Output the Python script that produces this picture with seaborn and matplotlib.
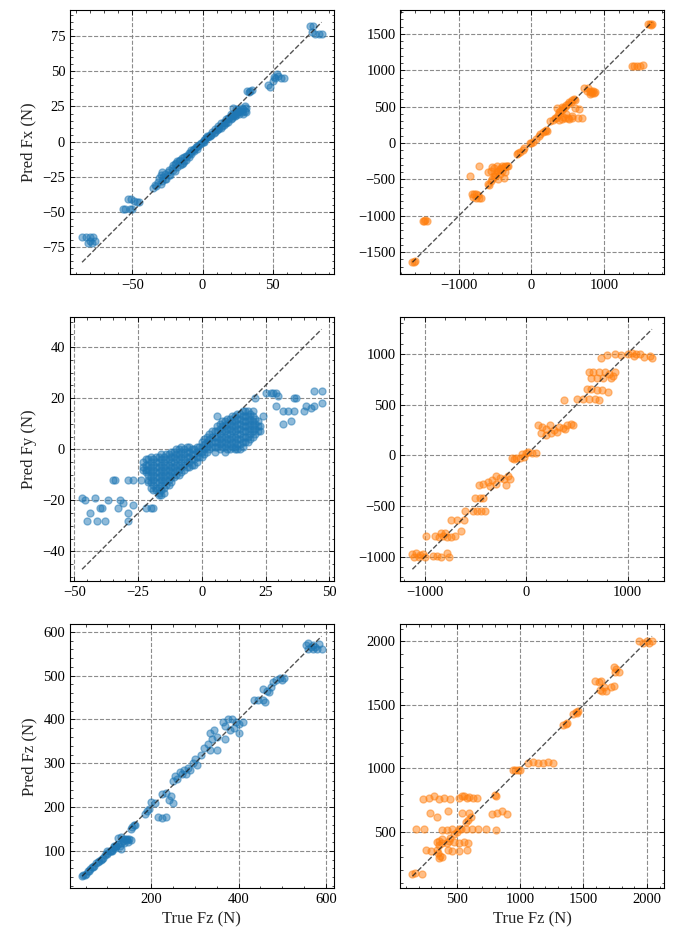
import pandas as pd
import matplotlib
matplotlib.use("Agg")
import matplotlib.pyplot as plt
from matplotlib.ticker import MultipleLocator
import seaborn as sns

# (true, pred) pairs, one cluster per line

# ---- left column: small forces ----
small_fx = [
    (-86, -68), (-83, -68), (-80, -68), (-78, -68), (-82, -72), (-79, -72), (-77, -71), (-80, -71),
    (-57, -48), (-55, -48), (-52, -48), (-50, -48), (-53, -41), (-51, -41), (-49, -42), (-47, -43), (-45, -43),
    (-35, -33), (-33, -32), (-32, -29), (-31, -26), (-30, -24), (-29, -28), (-28, -25), (-27, -23),
    (-26, -27), (-25, -22), (-24, -20), (-23, -24), (-22, -19), (-21, -17), (-20, -21), (-19, -15),
    (-18, -18), (-17, -14), (-16, -17), (-15, -12), (-14, -15), (-13, -11), (-12, -13), (-11, -10),
    (-10, -11), (-9, -8), (-8, -9), (-7, -6), (-6, -7), (-5, -4), (-4, -5), (-3, -3), (-2, -2),
    (-1, -1), (0, 0), (1, 1), (2, 2), (3, 3), (4, 3), (5, 5), (6, 5), (7, 7), (8, 6), (9, 9),
    (10, 8), (11, 11), (12, 10), (13, 13), (14, 11), (15, 14), (16, 13), (17, 16), (18, 14),
    (19, 17), (20, 16), (21, 19), (22, 18), (23, 20), (24, 19), (25, 21), (26, 20), (27, 22),
    (28, 21), (29, 23), (30, 22), (31, 24), (22, 24), (24, 23), (20, 20), (-18, -14), (-20, -16),
    (-15, -16), (-10, -8), (-30, -30), (-27, -27), (-24, -24), (-21, -20), (-12, -10), (-6, -5),
    (3, 4), (9, 7), (15, 12), (18, 17), (26, 22), (29, 20), (31, 21), (-34, -31), (-29, -22),
    (-16, -13), (-13, -14), (-8, -6), (-4, -3), (1, 0), (5, 4), (11, 9), (13, 10), (17, 13),
    (21, 17), (23, 18), (25, 23), (28, 24), (30, 25),
    (32, 36), (34, 36), (35, 37), (33, 35),
    (47, 40), (48, 39), (50, 43), (52, 45), (54, 47), (56, 45), (58, 45), (53, 48), (51, 46),
    (77, 82), (79, 82), (78, 78), (80, 77), (83, 77), (85, 77),
]

# dense Fy blob: true value -> predicted values in that column
small_fy_blob = [
    (-23, [-5, -7, -8]),
    (-22, [-4, -6, -8, -9]),
    (-21, [-4, -6, -8, -10, -12, -13]),
    (-20, [-3, -5, -7, -9, -11, -13, -15]),
    (-19, [-4, -6, -8, -10, -12, -14, -16]),
    (-18, [-3, -5, -7, -9, -11, -13, -15, -16]),
    (-17, [-3, -5, -7, -9, -11, -13, -15, -17, -18]),
    (-16, [-2, -4, -6, -8, -10, -12, -14, -16, -18]),
    (-15, [-3, -5, -7, -9, -11, -13, -15, -17]),
    (-14, [-2, -4, -6, -8, -10, -12, -14]),
    (-13, [-2, -4, -6, -8, -10, -12, -14]),
    (-12, [-1, -3, -5, -7, -9, -11, -13]),
    (-11, [-1, -3, -5, -7, -9, -11]),
    (-10, [0, -2, -4, -6, -8, -10]),
    (-9, [0, -2, -4, -6, -8, -10]),
    (-8, [1, -1, -3, -5, -7, -9]),
    (-7, [0, -2, -4, -6, -8]),
    (-6, [1, -1, -3, -5, -7]),
    (-5, [1, -1, -3, -5, -7]),
    (-4, [0, -2, -4, -6]),
    (-3, [0, -2, -4, -6]),
    (-2, [1, -1, -3, -5]),
    (-1, [1, -1, -3]),
    (0, [3, 1, -1, -3]),
    (1, [4, 2, 0, -2]),
    (2, [5, 3, 1, -1]),
    (3, [6, 4, 2, 0]),
    (4, [7, 5, 3, 1]),
    (5, [7, 5, 3, 1, -1]),
    (6, [9, 7, 5, 3, 1]),
    (7, [10, 8, 6, 4, 2, 0]),
    (8, [11, 9, 7, 5, 3, 1]),
    (9, [11, 9, 7, 5, 3, 1, -1]),
    (10, [12, 10, 8, 6, 4, 2, 0]),
    (11, [12, 10, 8, 6, 4, 2, 0]),
    (12, [13, 11, 9, 7, 5, 3, 1]),
    (13, [13, 11, 9, 7, 5, 3, 1, 0]),
    (14, [14, 12, 10, 8, 6, 4, 2, 0]),
    (15, [14, 12, 10, 8, 6, 4, 2, 0]),
    (16, [15, 13, 11, 9, 7, 5, 3, 1]),
    (17, [15, 13, 11, 9, 7, 5, 3]),
    (18, [15, 13, 11, 9, 7, 5, 3]),
    (19, [14, 12, 10, 8, 6, 4]),
    (20, [13, 11, 9, 7, 5]),
    (21, [12, 10, 8, 6]),
    (22, [11, 9, 7]),
    (23, [9, 7]),
]
small_fy_outliers = [
    (-46, -20), (-47, -19), (-44, -25), (-45, -28), (-41, -28), (-38, -28), (-39, -23), (-37, -20),
    (-42, -19), (-40, -23), (-34, -12), (-35, -12), (-33, -23), (-32, -20), (-29, -12), (-27, -12),
    (-24, -12), (-29, -25), (-29, -28), (-27, -22), (-22, -23), (-20, -23), (-19, -23), (-31, -21),
    (25, 22), (27, 22), (28, 22), (29, 22), (30, 21), (29, 17), (32, 15), (34, 15), (32, 10), (35, 11),
    (36, 20), (37, 20), (36, 15), (40, 15), (41, 17), (43, 16), (44, 17), (44, 23), (47, 23), (47, 18),
    (21, 20), (24, 13), (6, 13), (20, 15),
]

small_fz = [
    (42, 42), (45, 45), (50, 48), (55, 53), (60, 58), (65, 62), (70, 66), (75, 72), (80, 76),
    (85, 80), (90, 84), (95, 90), (100, 94), (105, 99), (110, 103), (115, 108), (120, 112),
    (125, 115), (130, 118), (135, 122), (140, 126), (145, 128), (150, 126), (155, 125),
    (120, 110), (130, 105), (110, 100), (100, 100), (125, 130), (130, 132),
    (48, 44), (58, 54), (68, 64), (78, 74), (88, 82), (98, 92), (108, 100), (118, 106),
    (128, 112), (138, 118), (148, 120), (115, 112), (135, 128), (145, 124),
    (155, 150), (160, 160), (157, 155), (162, 158),
    (185, 185), (190, 190), (195, 195), (200, 212), (210, 210), (215, 177), (225, 176), (235, 177),
    (225, 230), (235, 232), (245, 225), (240, 215), (250, 210),
    (250, 260), (260, 265), (270, 275), (280, 275), (255, 270), (265, 280),
    (285, 290), (295, 300), (300, 310), (305, 295), (290, 285), (275, 285),
    (320, 335), (330, 345), (340, 355), (315, 320), (335, 330), (350, 330),
    (335, 370), (345, 375), (350, 360),
    (365, 395), (375, 400), (385, 400), (395, 395), (400, 390), (370, 385), (380, 375),
    (390, 380), (410, 395), (400, 370), (370, 355),
    (435, 445), (445, 445), (455, 445), (460, 440),
    (455, 470), (465, 465), (475, 475), (480, 485), (470, 462),
    (485, 490), (495, 495), (500, 490), (505, 495),
    (555, 570), (560, 562), (565, 565), (570, 570), (575, 565), (580, 560), (585, 572),
    (590, 560), (560, 575), (570, 560),
]

# ---- right column: large forces ----
large_fx = [
    (-1640, -1630), (-1620, -1630), (-1600, -1620),
    (-1500, -1070), (-1480, -1070), (-1460, -1060), (-1440, -1070),
    (-820, -700), (-790, -700), (-760, -700), (-740, -710), (-720, -750), (-770, -760),
    (-800, -740), (-700, -760), (-840, -460), (-720, -320),
    (-600, -560), (-580, -580), (-560, -520), (-540, -500), (-520, -450), (-500, -420),
    (-480, -400), (-460, -380), (-440, -360), (-420, -340), (-400, -320), (-380, -330),
    (-360, -320), (-340, -310), (-320, -310), (-560, -380), (-540, -330), (-600, -400),
    (-520, -340), (-480, -320), (-500, -460), (-460, -500), (-440, -420), (-400, -380),
    (-380, -480), (-360, -400),
    (-200, -150), (-180, -140), (-160, -130), (-120, -100), (-100, -70),
    (-20, 0), (0, 0), (20, 10), (60, 60), (100, 100), (120, 120),
    (160, 150), (180, 170), (200, 180), (220, 170),
    (260, 300), (300, 320), (320, 340), (340, 350), (360, 380), (380, 420), (400, 440),
    (420, 460), (440, 480), (460, 500), (480, 520), (500, 540), (520, 560), (540, 570),
    (560, 590), (580, 600), (600, 590), (380, 320), (420, 330), (460, 340), (500, 350),
    (520, 330), (560, 340), (600, 480), (650, 470), (640, 340), (700, 340), (420, 500),
    (350, 480), (440, 360), (480, 400), (560, 370),
    (720, 760), (760, 720), (800, 700), (830, 690), (860, 690), (780, 760), (820, 720),
    (850, 720), (800, 680), (880, 700),
    (1380, 1060), (1420, 1060), (1460, 1060), (1500, 1060), (1540, 1070),
    (1600, 1630), (1630, 1630), (1650, 1620), (1660, 1630),
]

large_fy = [
    (-1120, -970), (-1080, -960), (-1050, -980), (-1020, -970), (-1000, -1000), (-1100, -1000), (-1060, -1000),
    (-920, -990), (-880, -990), (-840, -1000), (-780, -960), (-760, -1000),
    (-990, -790), (-900, -790), (-860, -800), (-820, -790), (-780, -800), (-740, -800),
    (-700, -790), (-840, -760), (-800, -760),
    (-640, -740), (-680, -640), (-610, -640), (-740, -640),
    (-605, -545), (-500, -420), (-450, -420), (-420, -420), (-480, -550), (-440, -550),
    (-400, -550), (-520, -550),
    (-460, -290), (-420, -280), (-380, -260), (-340, -240), (-300, -280), (-260, -220),
    (-220, -230), (-180, -200), (-200, -290), (-160, -230), (-300, -200), (-360, -300),
    (-140, -30), (-100, -30), (-60, -30), (-20, -20), (0, 20), (20, 30), (60, 20), (100, 20),
    (-120, -40), (-40, 10),
    (120, 300), (160, 280), (200, 260), (240, 300), (280, 250), (320, 280), (360, 270),
    (400, 300), (440, 310), (150, 220), (200, 200), (250, 220), (300, 230), (380, 260), (460, 300),
    (370, 545), (500, 550), (560, 550), (620, 550), (680, 550), (720, 540),
    (600, 650), (640, 650), (700, 640), (750, 640), (810, 620),
    (620, 820), (660, 820), (720, 820), (780, 820), (820, 800), (860, 780), (880, 820),
    (640, 760), (700, 760), (760, 760), (840, 760),
    (740, 960), (800, 990), (880, 1000), (940, 990), (1000, 1000), (1040, 1010), (1080, 1000),
    (1120, 1000), (1160, 970), (1220, 980), (1240, 960), (1060, 980),
]

large_fz = [
    (150, 170), (170, 175), (226, 170),
    (230, 760), (280, 770), (320, 780), (360, 760), (400, 770), (450, 760), (520, 770),
    (540, 780), (560, 780), (580, 770), (600, 775), (630, 770), (660, 770),
    (290, 650), (340, 620), (430, 660), (540, 650), (600, 650), (610, 620),
    (780, 640), (820, 650), (860, 660), (900, 640), (800, 790), (810, 780),
    (180, 520), (240, 520), (380, 515), (420, 515), (460, 520), (530, 520), (570, 520),
    (620, 520), (670, 520), (730, 520), (810, 515),
    (575, 580), (585, 590),
    (340, 420), (360, 430), (380, 440), (360, 400), (380, 410),
    (440, 430), (480, 420), (520, 410), (560, 420), (590, 410),
    (260, 360), (300, 350), (340, 355), (350, 330), (370, 310), (380, 300), (360, 290),
    (430, 360), (460, 350), (520, 350), (580, 355),
    (450, 450), (480, 480), (500, 500), (520, 520), (420, 410),
    (940, 990), (960, 990), (980, 990), (1000, 985),
    (1060, 1045), (1100, 1050), (1140, 1045), (1180, 1045), (1220, 1050), (1260, 1045),
    (1340, 1340), (1360, 1350), (1370, 1355),
    (1420, 1430), (1440, 1445), (1460, 1450), (1450, 1435),
    (1590, 1690), (1620, 1680), (1640, 1690), (1630, 1620), (1650, 1610), (1660, 1640),
    (1680, 1610), (1720, 1640), (1740, 1650),
    (1740, 1800), (1760, 1780), (1780, 1760), (1750, 1760),
    (1940, 2000), (1970, 1990), (2000, 2000), (2020, 1990), (2040, 2000),
]

small_fy = [(x, y) for x, ys in small_fy_blob for y in ys] + small_fy_outliers

# data, colour, ylabel, xlabel, major step x, major step y
panels = [
    (small_fx, "#1f77b4", "Pred Fx (N)", None, 50, 25),
    (large_fx, "#ff7f0e", None, None, 1000, 500),
    (small_fy, "#1f77b4", "Pred Fy (N)", None, 25, 20),
    (large_fy, "#ff7f0e", None, None, 1000, 500),
    (small_fz, "#1f77b4", "Pred Fz (N)", "True Fz (N)", 200, 100),
    (large_fz, "#ff7f0e", None, "True Fz (N)", 500, 500),
]

sns.set_theme(style="ticks")
plt.rcParams["font.family"] = ["Liberation Serif", "DejaVu Serif"]
plt.rcParams.update({
    "xtick.direction": "in", "ytick.direction": "in",
    "xtick.top": True, "ytick.right": True,
    "xtick.minor.visible": True, "ytick.minor.visible": True,
    "xtick.major.size": 3.5, "ytick.major.size": 3.5,
    "xtick.minor.size": 1.8, "ytick.minor.size": 1.8,
    "xtick.major.width": 0.6, "ytick.major.width": 0.6,
    "xtick.minor.width": 0.5, "ytick.minor.width": 0.5,
    "xtick.labelsize": 10.5, "ytick.labelsize": 10.5,
    "axes.labelsize": 12, "axes.linewidth": 0.8,
    "axes.edgecolor": "black", "xtick.color": "black", "ytick.color": "black",
    "axes.unicode_minus": True,
})

fig, axes = plt.subplots(3, 2, figsize=(6.74, 9.35), dpi=100)
fig.subplots_adjust(left=0.104, right=0.985, top=0.989, bottom=0.050, wspace=0.254, hspace=0.163)

for ax, (pts, color, ylab, xlab, xstep, ystep) in zip(axes.flat, panels):
    df = pd.DataFrame(pts, columns=["true", "pred"])
    sns.scatterplot(x="true", y="pred", data=df, ax=ax, color=color, alpha=0.5,
                    s=26, edgecolor=color, linewidth=0.9, zorder=3)
    lo, hi = df["true"].min(), df["true"].max()
    ax.plot([lo, hi], [lo, hi], color="k", linestyle="--", linewidth=1, alpha=0.75, zorder=4)
    ax.xaxis.set_major_locator(MultipleLocator(xstep))
    ax.yaxis.set_major_locator(MultipleLocator(ystep))
    ax.grid(True, linestyle="--", color="0.5", linewidth=0.8, alpha=0.9)
    ax.set_axisbelow(True)
    ax.set_ylabel(ylab if ylab else "")
    ax.set_xlabel(xlab if xlab else "")

fig.savefig("out.png", dpi=100)
plt.close()
